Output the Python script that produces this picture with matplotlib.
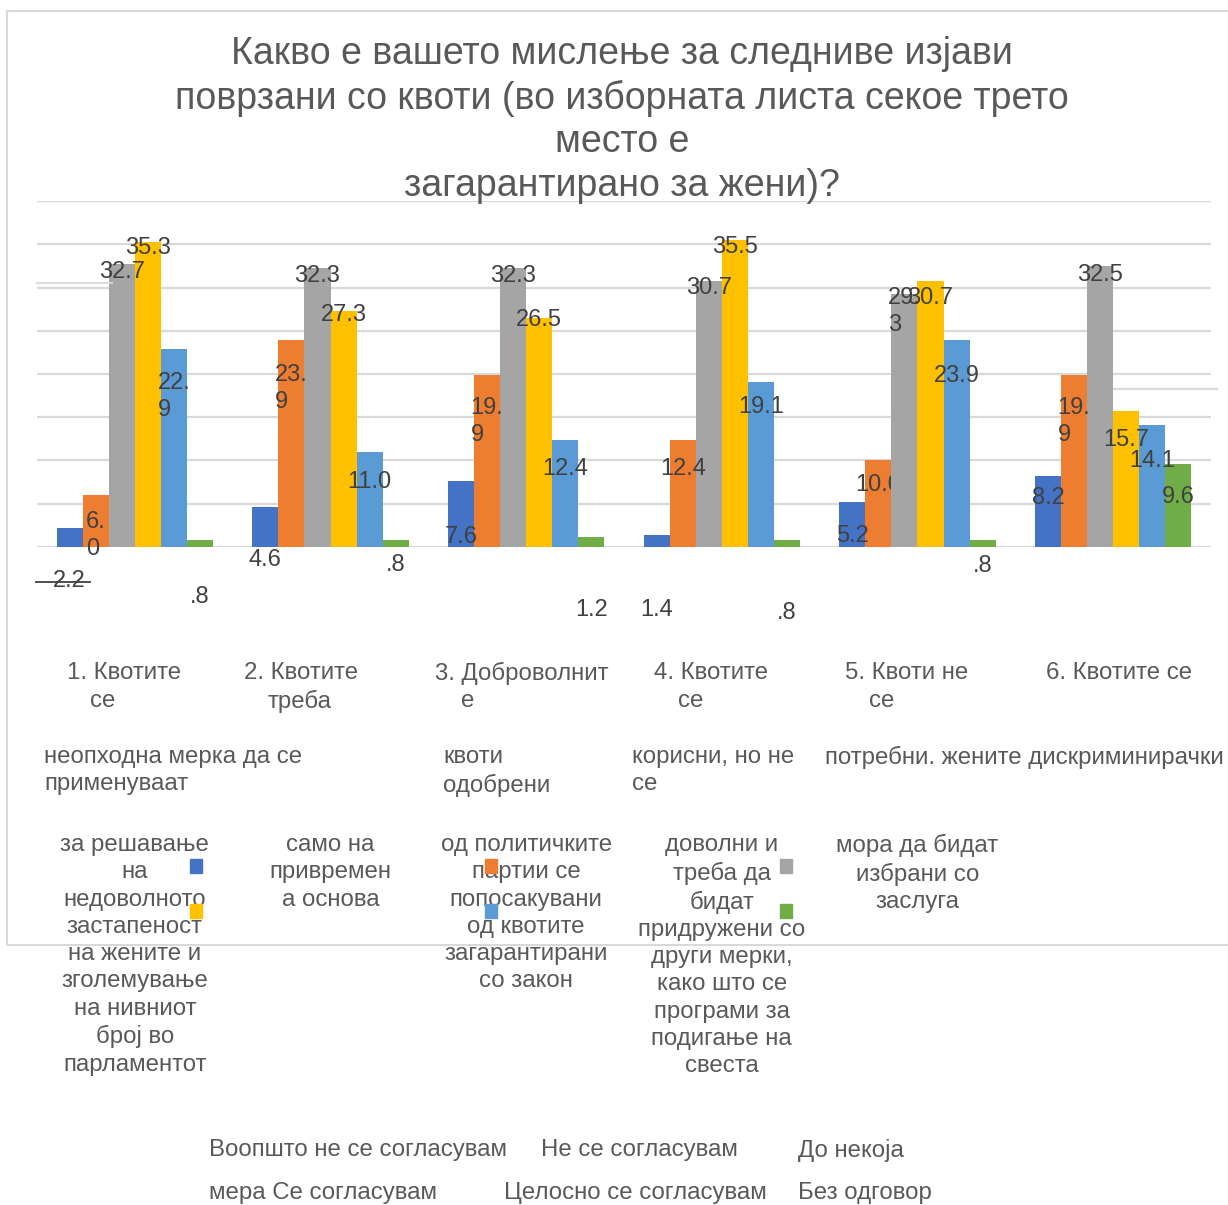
import matplotlib.pyplot as plt
from matplotlib.patches import Rectangle
from matplotlib.lines import Line2D
from matplotlib.transforms import blended_transform_factory

plt.rcParams['font.family'] = ['Liberation Sans', 'DejaVu Sans']

W, H = 1228, 1205

#==========================
# data
#==========================
series_names = ['Воопшто не се согласувам', 'Не се согласувам', 'До некоја мера',
                'Се согласувам', 'Целосно се согласувам', 'Без одговор']
colors = ['#4472C4', '#ED7D31', '#A5A5A5', '#FFC000', '#5B9BD5', '#70AD47']

strongly_disagree = [2.2, 4.6, 7.6, 1.4, 5.2, 8.2]
disagree = [6.0, 23.9, 19.9, 12.4, 10.0, 19.9]
partly = [32.7, 32.3, 32.3, 30.7, 29.3, 32.5]
agree = [35.3, 27.3, 26.5, 35.5, 30.7, 15.7]
fully_agree = [22.9, 11.0, 12.4, 19.1, 23.9, 14.1]
no_answer = [0.8, 0.8, 1.2, 0.8, 0.8, 9.6]
values = [strongly_disagree, disagree, partly, agree, fully_agree, no_answer]

title = ('Какво е вашето мислење за следниве изјави\n'
         'поврзани со квоти (во изборната листа секое трето\n'
         'место е\n'
         'загарантирано за жени)?')

# category labels, split the way the original export broke them
cat_heads = [('1. Квотите', 'се'), ('2. Квотите', 'треба'), ('3. Доброволнит', 'е'),
             ('4. Квотите', 'се'), ('5. Квоти не', 'се'), ('6. Квотите се', '')]
cat_mids = ['неопходна мерка да се\nприменуваат', '', 'квоти\nодобрени',
            'корисни, но не\nсе', 'потребни. жените дискриминирачки', '']
cat_tails = ['за решавање\nна\nнедоволното\nзастапеност\nна жените и\nзголемување\nна нивниот\nброј во\nпарламентот',
             'само на\nпривремен\nа основа',
             'од политичките\nпартии се\nпопосакувани\nод квотите\nзагарантирани\nсо закон',
             'доволни и\nтреба да\nбидат\nпридружени со\nдруги мерки,\nкако што се\nпрограми за\nподигање на\nсвеста',
             'мора да бидат\nизбрани со\nзаслуга',
             '']

#==========================
# label placement (px below bar top), wrapped labels, hidden labels
#==========================
label_off = [[53, 53, 56, 75, 34, 22],
             [40, 48, 47, 29, 25, 47],
             [8, 8, 8, 7, 18, 9],
             [6, 4, 2, 7, 17, 29],
             [48, 30, 29, 25, 36, 36],
             [57, 25, 73, 73, 26, 33]]
wrapped = {(1, 0), (4, 0), (1, 1), (1, 2), (2, 4), (1, 5)}
behind_bars = {(1, 4)}


def fx(px):
    return px / W


def fy(py):
    return 1 - py / H


def fmt(v, wrap):
    s = f'{v:.1f}'
    if s.startswith('0'):
        s = s[1:]
    if wrap:
        k = s.index('.') + 1
        s = s[:k] + '\n' + s[k:]
    return s


fig = plt.figure(figsize=(W / 100, H / 100), dpi=100)

# chart area border
fig.add_artist(Rectangle((fx(7), fy(945)), fx(1260) - fx(7), fy(11) - fy(945),
                         transform=fig.transFigure, fill=False,
                         edgecolor='#d9d9d9', lw=1.5))

ax = fig.add_axes([fx(37), fy(547), fx(1211) - fx(37), fy(201) - fy(547)])
ax.set_xlim(-0.5, 5.5)
ax.set_ylim(0, 40)
ax.set_yticks(range(0, 45, 5))
ax.set_xticks([])
ax.yaxis.grid(True, color='#d9d9d9', lw=1.6, zorder=0)
ax.tick_params(left=False, labelleft=False)
for s in ax.spines.values():
    s.set_visible(False)
ax.set_axisbelow(True)

n = len(values)
w = 0.8 / n
for i, vals in enumerate(values):
    xs = [g + (i - (n - 1) / 2) * w for g in range(len(vals))]
    ax.bar(xs, vals, width=w, color=colors[i], zorder=2 + i,
           label=series_names[i])
    for g, (x, v) in enumerate(zip(xs, vals)):
        z = 2.5 + i if (i, g) in behind_bars else 20
        ax.annotate(fmt(v, (i, g) in wrapped), xy=(x, v),
                    xytext=(0, -label_off[i][g] * 0.72), textcoords='offset points',
                    ha='center', va='center', multialignment='left',
                    fontsize=17, color='#404040', zorder=z,
                    annotation_clip=False, linespacing=1.3)

# title
fig.text(fx(622), fy(120), title, ha='center', va='center', fontsize=27,
         color='#595959', linespacing=1.26, multialignment='center')

# category labels
txt = dict(fontsize=17.3, color='#595959', linespacing=1.31)
head_x1 = [124, 301, 522, 711, 907, 1119]
head_x2 = [103, 300, 468, 691, 882, None]
for g, (t1, t2) in enumerate(cat_heads):
    fig.text(fx(head_x1[g]), fy(673), t1, ha='center', va='center', **txt)
    if t2:
        fig.text(fx(head_x2[g]), fy(701), t2, ha='center', va='center', **txt)
mid_x = [44, None, 443, 632, 825, None]
for g, t in enumerate(cat_mids):
    if t:
        fig.text(fx(mid_x[g]), fy(746), t, ha='left', va='top', **txt)
tr = blended_transform_factory(ax.transData, fig.transFigure)
for g, t in enumerate(cat_tails):
    if t:
        ax.text(g, fy(834), t, transform=tr, ha='center', va='top',
                multialignment='center', **txt)

# legend, as the export scattered it
sq_pos = [(190, 859), (485, 859), (780, 859), (190, 904), (485, 904), (780, 904)]
for c, (px, py) in zip(colors, sq_pos):
    fig.add_artist(Rectangle((fx(px), fy(py + 14)), 12 / W, 14 / H,
                             transform=fig.transFigure, color=c))
leg_lines = [[('Воопшто не се согласувам', 209), ('Не се согласувам', 541), ('До некоја', 798)],
             [('мера Се согласувам', 209), ('Целосно се согласувам', 504), ('Без одговор', 798)]]
for row, py in zip(leg_lines, [1150, 1193]):
    for t, px in row:
        fig.text(fx(px), fy(py), t, ha='left', va='center', **txt)

# stray lines from the original export
fig.add_artist(Line2D([fx(36), fx(90)], [fy(582), fy(582)], color='#404040', lw=1.3, zorder=30))
fig.add_artist(Line2D([fx(37), fx(112)], [fy(283), fy(283)], color='#d9d9d9', lw=1.3))
fig.add_artist(Line2D([fx(1114), fx(1217)], [fy(389), fy(389)], color='#d9d9d9', lw=1.6))

fig.savefig('out.png', dpi=100)
